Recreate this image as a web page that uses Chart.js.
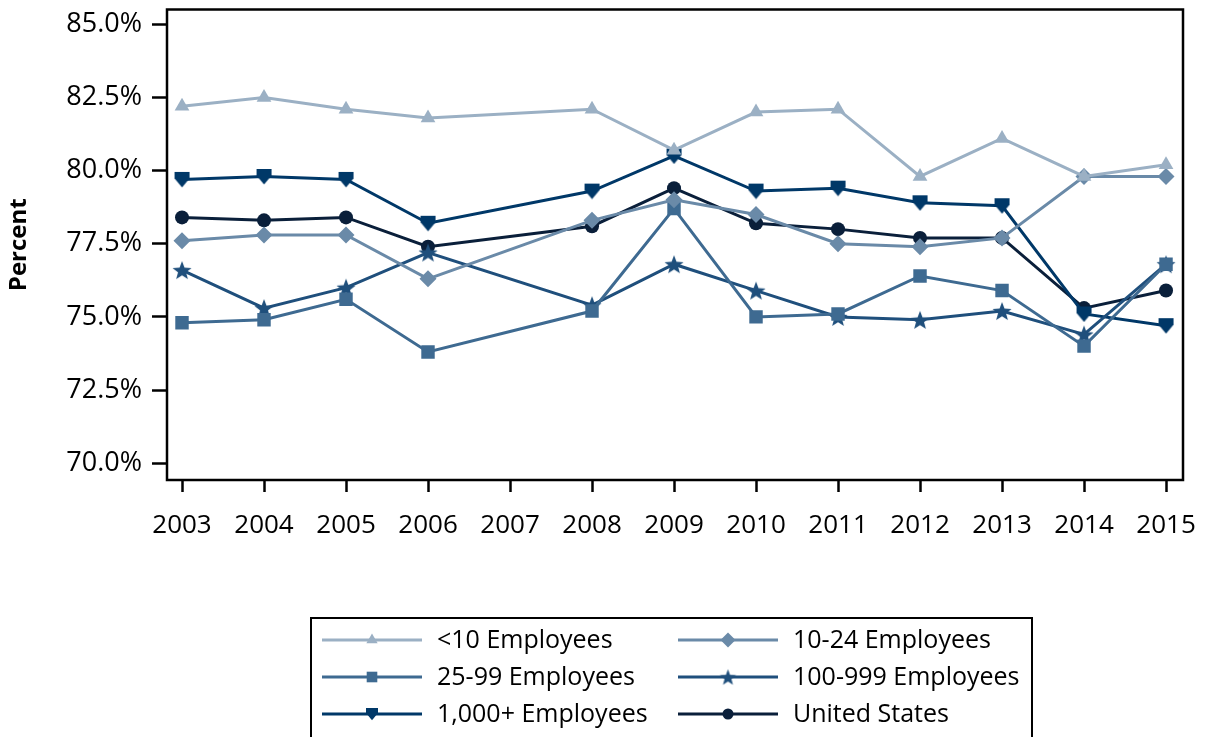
<!DOCTYPE html>
<html>
<head>
<meta charset="utf-8">
<script src="https://cdn.jsdelivr.net/npm/chart.js@4/dist/chart.umd.min.js"></script>
<style>
  html, body { margin: 0; padding: 0; background: #fff; }
  #wrap { width: 1206px; height: 737px; }
</style>
</head>
<body>
<div id="wrap"><canvas id="chart" width="1206" height="737"></canvas></div>
<script>
// axis values
const tickYears = [2003, 2004, 2005, 2006, 2007, 2008, 2009, 2010, 2011, 2012, 2013, 2014, 2015];
const yTicks = [70, 72.5, 75, 77.5, 80, 82.5, 85];
// no survey in 2007, lines run straight from 2006 to 2008
const years = [2003, 2004, 2005, 2006, 2008, 2009, 2010, 2011, 2012, 2013, 2014, 2015];

const under10 = [82.2, 82.5, 82.1, 81.8, 82.1, 80.7, 82.0, 82.1, 79.8, 81.1, 79.8, 80.2];
const emp10to24 = [77.6, 77.8, 77.8, 76.3, 78.3, 79.0, 78.5, 77.5, 77.4, 77.7, 79.8, 79.8];
const emp25to99 = [74.8, 74.9, 75.6, 73.8, 75.2, 78.7, 75.0, 75.1, 76.4, 75.9, 74.0, 76.8];
const emp100to999 = [76.6, 75.3, 76.0, 77.2, 75.4, 76.8, 75.9, 75.0, 74.9, 75.2, 74.4, 76.8];
const emp1000plus = [79.7, 79.8, 79.7, 78.2, 79.3, 80.5, 79.3, 79.4, 78.9, 78.8, 75.1, 74.7];
const unitedStates = [78.4, 78.3, 78.4, 77.4, 78.1, 79.4, 78.2, 78.0, 77.7, 77.7, 75.3, 75.9];

const FONT = "'Open Sans', 'DejaVu Sans', sans-serif";

// filled star / shield markers (chart.js 'star' is only strokes)
function starCanvas(R, color) {
  const s = Math.ceil(R * 2 + 2);
  const c = document.createElement('canvas');
  c.width = c.height = s;
  const g = c.getContext('2d');
  const r = R * 0.42;
  g.fillStyle = color;
  g.beginPath();
  for (let i = 0; i < 10; i++) {
    const a = -Math.PI / 2 + i * Math.PI / 5;
    const rr = i % 2 ? r : R;
    g.lineTo(s / 2 + Math.cos(a) * rr, s / 2 + Math.sin(a) * rr + R * 0.1);
  }
  g.closePath();
  g.fill();
  return c;
}

function shieldCanvas(w, color) {
  const s = Math.ceil(w + 2);
  const c = document.createElement('canvas');
  c.width = c.height = s;
  const g = c.getContext('2d');
  const h = w / 2, m = s / 2;
  g.fillStyle = color;
  g.beginPath();
  g.moveTo(m - h, m - h);
  g.lineTo(m + h, m - h);
  g.lineTo(m + h, m - h * 0.15);
  g.lineTo(m, m + h * 1.05);
  g.lineTo(m - h, m - h * 0.15);
  g.closePath();
  g.fill();
  return c;
}

const colors = ['#9bb0c4', '#6a8aa8', '#3e6a91', '#1f4f7c', '#003868', '#0a1f3a'];

const series = [
  { label: '<10 Employees', values: under10, style: 'triangle', radius: 8.5, legendStyle: 'triangle', legendRadius: 6.5 },
  { label: '10-24 Employees', values: emp10to24, style: 'rectRot', radius: 8.5, legendStyle: 'rectRot', legendRadius: 7.5 },
  { label: '25-99 Employees', values: emp25to99, style: 'rect', radius: 9.5, legendStyle: 'rect', legendRadius: 7.5 },
  { label: '100-999 Employees', values: emp100to999, style: starCanvas(10, colors[3]), radius: 8, legendStyle: starCanvas(8.5, colors[3]), legendRadius: 7 },
  { label: '1,000+ Employees', values: emp1000plus, style: shieldCanvas(15, colors[4]), radius: 8, legendStyle: shieldCanvas(12, colors[4]), legendRadius: 6 },
  { label: 'United States', values: unitedStates, style: 'circle', radius: 7, legendStyle: 'circle', legendRadius: 5.5 }
];

const datasets = series.map((s, i) => ({
  label: s.label,
  data: s.values.map((v, j) => ({ x: years[j], y: v })),
  borderColor: colors[i],
  backgroundColor: colors[i],
  borderWidth: 3,
  tension: 0,
  pointStyle: s.style,
  pointRadius: s.radius,
  pointBackgroundColor: colors[i],
  pointBorderWidth: 0,
  pointHoverRadius: s.radius
}));

// box around the plot
const frame = {
  id: 'frame',
  afterDraw(chart) {
    const { ctx, chartArea: a } = chart;
    ctx.save();
    ctx.strokeStyle = '#000';
    ctx.lineWidth = 2.5;
    ctx.strokeRect(a.left, a.top, a.right - a.left, a.bottom - a.top);
    ctx.restore();
  }
};

// two column legend in a box under the chart
const boxLegend = {
  id: 'boxLegend',
  afterDraw(chart) {
    const ctx = chart.ctx;
    const lineX = [322, 678], lineW = 100, textX = [437, 793], rowY = [640, 677, 714];
    ctx.save();
    ctx.strokeStyle = '#000';
    ctx.lineWidth = 2;
    ctx.strokeRect(311, 618, 721, 140);
    ctx.font = '25px ' + FONT;
    ctx.textBaseline = 'middle';
    ctx.textAlign = 'left';
    series.forEach((s, i) => {
      const col = i % 2, y = rowY[Math.floor(i / 2)];
      ctx.strokeStyle = colors[i];
      ctx.fillStyle = colors[i];
      ctx.lineWidth = 3;
      ctx.beginPath();
      ctx.moveTo(lineX[col], y);
      ctx.lineTo(lineX[col] + lineW, y);
      ctx.stroke();
      Chart.helpers.drawPoint(ctx, { pointStyle: s.legendStyle, radius: s.legendRadius, rotation: 0, borderWidth: 0 }, lineX[col] + lineW / 2, y);
      ctx.fillStyle = '#000';
      ctx.fillText(s.label, textX[col], y + 1);
    });
    ctx.restore();
  }
};

new Chart(document.getElementById('chart'), {
  type: 'line',
  data: { datasets },
  options: {
    responsive: false,
    animation: false,
    events: [],
    layout: { padding: { left: 0, right: 23, top: 5, bottom: 0 } },
    plugins: { legend: { display: false }, tooltip: { enabled: false } },
    scales: {
      x: {
        type: 'linear',
        min: 2002.817,
        max: 2015.207,
        afterBuildTicks: (s) => { s.ticks = tickYears.map((v) => ({ value: v })); },
        afterFit: (s) => { s.height = 257; s.paddingLeft = 0; s.paddingRight = 0; },
        border: { display: false },
        grid: { drawOnChartArea: false, drawTicks: true, tickLength: 12, tickWidth: 2.5, tickColor: '#000' },
        ticks: { color: '#000', font: { family: FONT, size: 26 }, padding: 18, autoSkip: false, maxRotation: 0, callback: (v) => String(v) }
      },
      y: {
        min: 69.425,
        max: 85.507,
        afterBuildTicks: (s) => { s.ticks = yTicks.map((v) => ({ value: v })); },
        afterFit: (s) => { s.width = 167; s.paddingTop = 0; s.paddingBottom = 0; },
        border: { display: false },
        grid: { drawOnChartArea: false, drawTicks: true, tickLength: 15, tickWidth: 2.5, tickColor: '#000' },
        ticks: { color: '#000', font: { family: FONT, size: 27 }, padding: 10, callback: (v) => v.toFixed(1) + '%' },
        title: { display: true, text: 'Percent', color: '#000', font: { family: FONT, size: 24, weight: 'bold' }, padding: { top: 5, bottom: 0 } }
      }
    }
  },
  plugins: [frame, boxLegend]
});
</script>
</body>
</html>
